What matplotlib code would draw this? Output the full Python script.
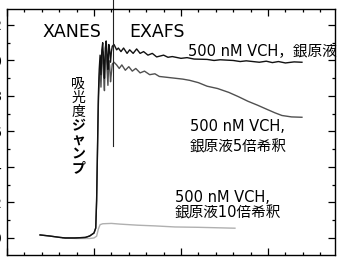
import matplotlib
matplotlib.use("Agg")
import matplotlib.pyplot as plt
from matplotlib.ticker import MultipleLocator

plt.rcParams['font.family'] = ['DejaVu Sans', 'Noto Sans CJK JP']

# ---- data (energy in eV, normalized absorbance) ----
e_std = [25438, 25449, 25461, 25467, 25478, 25490, 25495, 25500, 25502, 25503,
         25504, 25505, 25506, 25507, 25508, 25509, 25510, 25511, 25512, 25513,
         25514, 25515, 25516, 25517, 25518, 25519, 25520, 25521, 25523, 25526,
         25528, 25531, 25534, 25538, 25541, 25545, 25549, 25553, 25557, 25562,
         25567, 25572, 25580, 25585, 25590, 25600, 25607, 25615, 25630, 25638,
         25645, 25660, 25668, 25675, 25690, 25698, 25705, 25712, 25720, 25730,
         25739]
mu_std = [0.017, 0.011, 0.003, 0.000, 0.000, 0.003, 0.011, 0.028, 0.056, 0.21,
          0.50, 0.80, 0.95, 1.03, 0.92, 1.06, 1.10, 1.00, 0.90, 1.07,
          1.11, 1.03, 0.95, 1.09, 1.06, 0.99, 1.05, 1.08, 1.09, 1.06,
          1.07, 1.05, 1.07, 1.04, 1.06, 1.04, 1.065, 1.04, 1.05, 1.03,
          1.04, 1.02, 1.03, 1.018, 1.022, 1.012, 1.016, 1.008, 1.006, 1.00,
          1.004, 1.00, 0.994, 0.998, 0.99, 0.996, 0.988, 0.994, 0.986, 0.992,
          0.99]

e_5x = [25438, 25449, 25461, 25467, 25478, 25490, 25495, 25500, 25502, 25503,
        25504, 25505, 25506, 25507, 25508, 25509, 25510, 25511, 25512, 25513,
        25514, 25515, 25516, 25517, 25518, 25519, 25520, 25521, 25523, 25526,
        25529, 25532, 25536, 25540, 25544, 25548, 25553, 25558, 25564, 25570,
        25575, 25584, 25593, 25602, 25610, 25620, 25630, 25642, 25655, 25666,
        25677, 25688, 25700, 25708, 25716, 25727, 25739]
mu_5x = [0.017, 0.011, 0.003, 0.000, 0.000, 0.003, 0.011, 0.028, 0.056, 0.21,
         0.48, 0.75, 0.90, 0.97, 0.85, 1.00, 1.05, 0.92, 0.83, 1.02,
         1.06, 0.95, 0.86, 1.00, 0.97, 0.88, 0.93, 0.98, 0.99, 0.975,
         0.955, 0.975, 0.945, 0.965, 0.94, 0.955, 0.93, 0.94, 0.92, 0.925,
         0.91, 0.905, 0.90, 0.895, 0.888, 0.875, 0.855, 0.842, 0.82, 0.796,
         0.77, 0.748, 0.722, 0.705, 0.69, 0.682, 0.68]

e_10x = [25464, 25480, 25495, 25500, 25503, 25505, 25507, 25510, 25520, 25530,
         25550, 25570, 25593, 25620, 25662]
mu_10x = [0.000, -0.003, -0.003, 0.000, 0.010, 0.050, 0.075, 0.080, 0.082, 0.078,
          0.072, 0.068, 0.062, 0.060, 0.055]

e_boundary = 25522
y_ticks = [0.0, 0.2, 0.4, 0.6, 0.8, 1.0, 1.2]
label_std = "500 nM VCH，銀原液"
label_5x = ["500 nM VCH,", "銀原液5倍希釈"]
label_10x = ["500 nM VCH,", "銀原液10倍希釈"]
label_jump_a = "吸光度"
label_jump_b = "ジャンプ"

fig = plt.figure(figsize=(3.43, 2.60), dpi=100)
ax = fig.add_axes([7/343, 1-255/260, 328/343, 246/260])

ax.plot(e_10x, mu_10x, color='#b0b0b0', lw=1.0)
ax.plot(e_5x, mu_5x, color='#505050', lw=1.0)
ax.plot(e_std, mu_std, color='#111111', lw=1.0)
ax.plot([e_boundary, e_boundary], [0.52, 1.36], color='#222222', lw=0.8, clip_on=False)

ax.set_xlim(25400, 25777)
ax.set_ylim(-0.096, 1.29)
ax.xaxis.set_major_locator(MultipleLocator(100))
ax.xaxis.set_minor_locator(MultipleLocator(20))
ax.set_yticks(y_ticks)
ax.set_yticklabels([f"{v:.1f}" for v in y_ticks])
ax.yaxis.set_minor_locator(MultipleLocator(0.1))
ax.tick_params(which='both', direction='in', top=True, right=True, labelbottom=False,
               labelsize=10, width=0.9)
ax.tick_params(which='major', length=5)
ax.tick_params(which='minor', length=2.5)
for s in ax.spines.values():
    s.set_linewidth(1.0)

ax.text(25441, 1.13, "XANES", fontsize=12.5, ha='left', va='baseline')
ax.text(25541, 1.13, "EXAFS", fontsize=12.5, ha='left', va='baseline')
ax.text(25608, 1.031, label_std, fontsize=10.5, ha='left', va='baseline')
ax.text(25610, 0.600, label_5x[0], fontsize=10.5, ha='left', va='baseline')
ax.text(25610, 0.485, label_5x[1], fontsize=10.5, ha='left', va='baseline')
ax.text(25593, 0.203, label_10x[0], fontsize=10.5, ha='left', va='baseline')
ax.text(25593, 0.113, label_10x[1], fontsize=10.5, ha='left', va='baseline')

chars = [(c, 'normal') for c in label_jump_a] + [(c, 'bold') for c in label_jump_b]
y0, dy = 0.868, 0.0795
for i, (c, w) in enumerate(chars):
    ax.text(25482, y0 - i*dy, c, fontsize=10, ha='center', va='center',
            fontweight=w, family=['Noto Sans CJK JP'])

fig.savefig("out.png", dpi=100)
